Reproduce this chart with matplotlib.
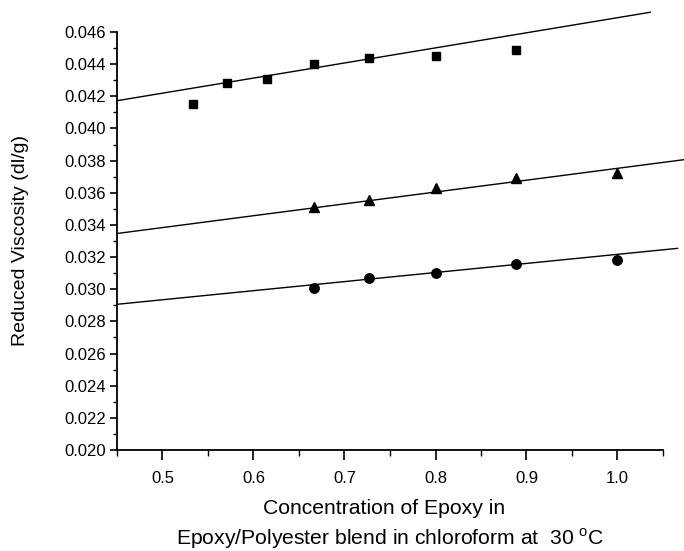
import matplotlib
matplotlib.use("Agg")
import matplotlib.pyplot as plt
import numpy as np
from matplotlib.ticker import MultipleLocator, FormatStrFormatter

plt.rcParams['font.family'] = ['Liberation Sans', 'DejaVu Sans']
plt.rcParams['mathtext.fontset'] = 'custom'
plt.rcParams['mathtext.rm'] = 'Liberation Sans'

# Data
conc_sq = [0.533, 0.571, 0.615, 0.667, 0.727, 0.800, 0.889]
visc_sq = [0.0415, 0.0428, 0.0431, 0.0440, 0.0444, 0.0445, 0.0449]
conc_tri = [0.667, 0.727, 0.800, 0.889, 1.000]
visc_tri = [0.0351, 0.03555, 0.0363, 0.0369, 0.0372]
conc_cir = [0.667, 0.727, 0.800, 0.889, 1.000]
visc_cir = [0.0301, 0.0307, 0.0310, 0.0316, 0.0318]

# Fitted lines: slope, intercept, x-start, x-end
fit_slope = [0.00939, 0.00737, 0.00565]
fit_intercept = [0.03750, 0.03015, 0.02652]
fit_xstart = [0.45, 0.45, 0.45]
fit_xend = [1.036, 1.076, 1.066]

xticks = [0.5, 0.6, 0.7, 0.8, 0.9, 1.0]
yticks = [0.020, 0.022, 0.024, 0.026, 0.028, 0.030, 0.032, 0.034, 0.036,
          0.038, 0.040, 0.042, 0.044, 0.046]

fig = plt.figure(figsize=(6.84, 5.51), dpi=100)
ax = fig.add_axes([117/684, 101/551, 546/684, 418/551])

for s, b, x0, x1 in zip(fit_slope, fit_intercept, fit_xstart, fit_xend):
    xs = np.array([x0, x1])
    ax.plot(xs, b + s*xs, color='black', lw=1.0, clip_on=False, zorder=2)

ax.plot(conc_sq, visc_sq, ls='none', marker='s', ms=6.3, color='black', zorder=3)
ax.plot(conc_tri, visc_tri, ls='none', marker='^', ms=7.5, color='black', zorder=3)
ax.plot(conc_cir, visc_cir, ls='none', marker='o', ms=6.8, color='black', zorder=3)

ax.set_xlim(0.45, 1.05)
ax.set_ylim(0.020, 0.046)
ax.set_xticks(xticks)
ax.set_yticks(yticks)
ax.xaxis.set_minor_locator(MultipleLocator(0.05))
ax.yaxis.set_minor_locator(MultipleLocator(0.001))
ax.xaxis.set_major_formatter(FormatStrFormatter('%.1f'))
ax.yaxis.set_major_formatter(FormatStrFormatter('%.3f'))

for side in ['top', 'right']:
    ax.spines[side].set_visible(False)
for side in ['left', 'bottom']:
    ax.spines[side].set_linewidth(1.3)

ax.tick_params(which='major', direction='out', length=5, width=1.2,
               labelsize=12, pad=3)
ax.tick_params(which='minor', direction='out', length=3, width=1.0)
ax.tick_params(axis='x', which='major', length=7, pad=8)
ax.tick_params(axis='x', which='minor', length=4)

fig.text(21/684, (101 + 209)/551, 'Reduced Viscosity (dl/g)', fontsize=14,
         rotation=90, ha='center', va='center')
fig.text(384/684, 1 - 514/551, 'Concentration of Epoxy in', fontsize=15.2,
         ha='center', va='baseline')
fig.text(390/684, 1 - 545/551,
         r'Epoxy/Polyester blend in chloroform at  30 $^{\mathrm{o}}$C',
         fontsize=15.2, ha='center', va='baseline')

fig.savefig('out.png', dpi=100)
